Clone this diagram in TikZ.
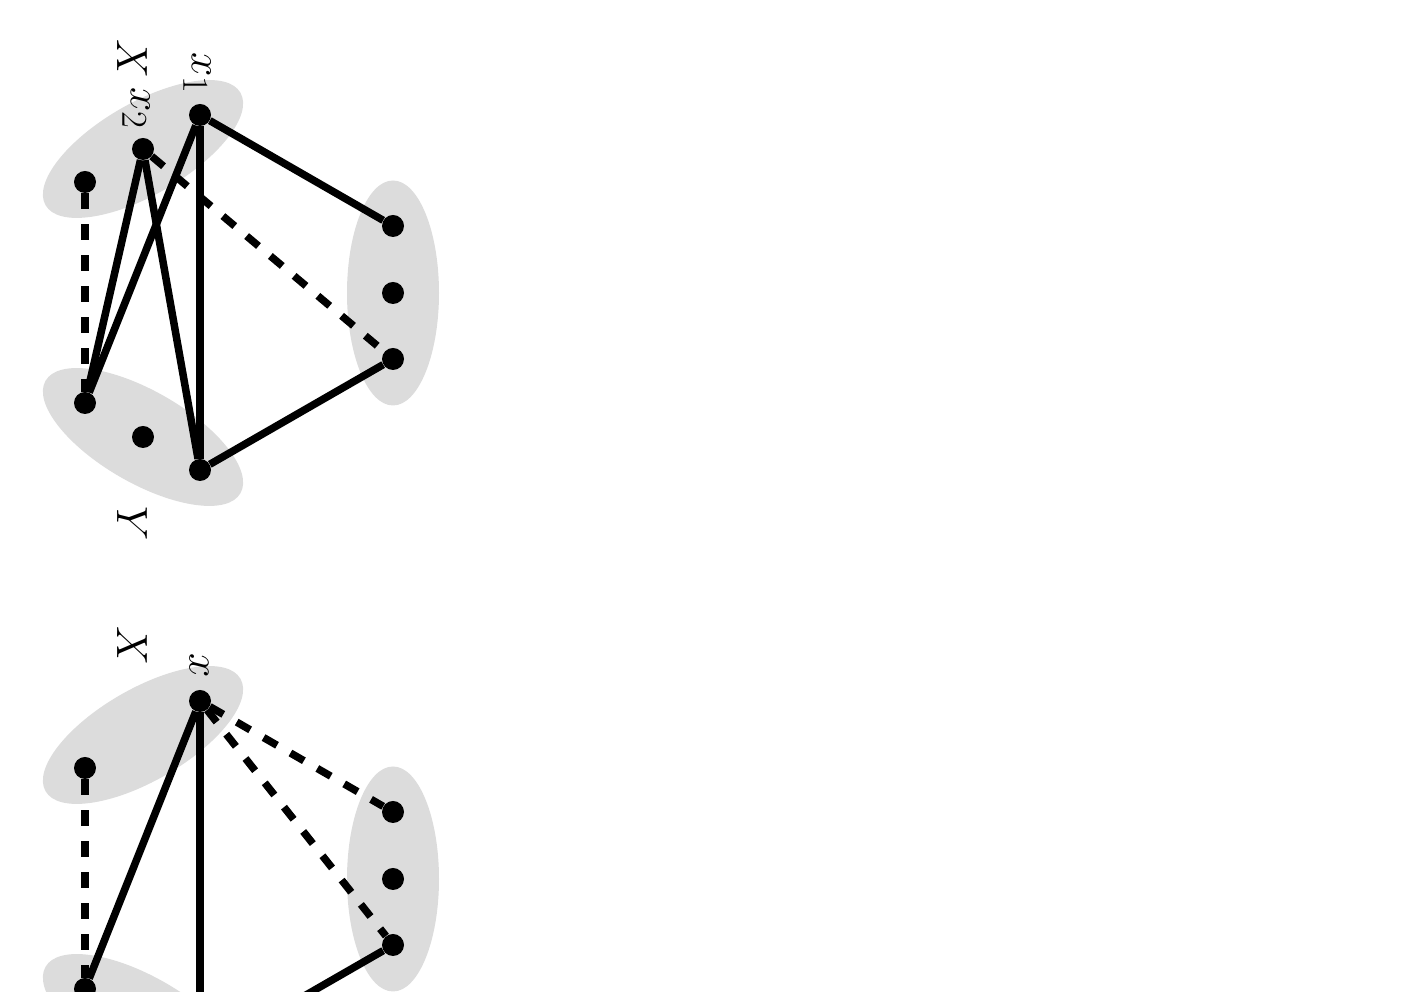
\documentclass[tikz,border=0pt]{standalone}
\usetikzlibrary{shapes.geometric}

\definecolor{blobgray}{RGB}{220,220,220}

\tikzset{
  dot/.style={circle, fill=black, inner sep=0pt, minimum size=0.44cm},
  blob/.style={ellipse, fill=blobgray, inner sep=0pt, minimum width=4.5cm, minimum height=1.84cm},
  lbl/.style={rotate=-90, font=\Huge},
  edge/.style={line width=0.15cm},
  nonedge/.style={line width=0.15cm, dash pattern=on 0.31cm off 0.31cm}
}

\begin{document}
\begin{tikzpicture}
    \clip (0,0) rectangle (28.08,19.84);

    % upper picture
    \node[blob, rotate=30] (X) at (2.86,16.86) {};
    \node[blob, rotate=-30] (Y) at (2.86,11.10) {};
    \node[blob, rotate=90] (Z) at (7.86,13.98) {};

    \node[dot] (X1) at (4.00,17.54) {};
    \node[dot] (X2) at (2.86,16.86) {};
    \node[dot] (X3) at (1.70,16.20) {};
    \node[dot] (Y1) at (1.70,11.78) {};
    \node[dot] (Y2) at (2.86,11.10) {};
    \node[dot] (Y3) at (4.00,10.44) {};
    \node[dot] (Z1) at (7.86,15.32) {};
    \node[dot] (Z2) at (7.86,13.98) {};
    \node[dot] (Z3) at (7.86,12.66) {};

    \node[lbl] (LX) at (2.64,18.66) {$X$};
    \node[lbl] (LX1) at (3.94,18.38) {$x_1$};
    \node[lbl] (LX2) at (2.72,17.68) {$x_2$};
    \node[lbl] (LY) at (2.64,9.36) {$Y$};

    \draw[edge] (X1) -- (Z1);
    \draw[edge] (X1) -- (Y3);
    \draw[edge] (X1) -- (Y1);
    \draw[edge] (X2) -- (Y1);
    \draw[edge] (X2) -- (Y3);
    \draw[edge] (Y3) -- (Z3);
    \draw[nonedge] (X2) -- (Z3);
    \draw[nonedge] (X3) -- (Y1);

    % lower picture
    \begin{scope}[yshift=-11.72cm]
      \node[blob, rotate=30] (Xb) at (2.86,16.86) {};
      \node[blob, rotate=-30] (Yb) at (2.86,11.10) {};
      \node[blob, rotate=90] (Zb) at (7.86,13.98) {};

      \node[dot] (Xb1) at (4.00,17.54) {};
      \node[dot] (Xb3) at (1.70,16.20) {};
      \node[dot] (Yb1) at (1.70,11.78) {};
      \node[dot] (Yb2) at (2.86,11.10) {};
      \node[dot] (Yb3) at (4.00,10.44) {};
      \node[dot] (Zb1) at (7.86,15.32) {};
      \node[dot] (Zb2) at (7.86,13.98) {};
      \node[dot] (Zb3) at (7.86,12.66) {};

      \node[lbl] (LXb) at (2.64,18.64) {$X$};
      \node[lbl] (LXb1) at (3.98,18.24) {$x$};

      \draw[edge] (Xb1) -- (Yb1);
      \draw[edge] (Xb1) -- (Yb3);
      \draw[edge] (Yb3) -- (Zb3);
      \draw[nonedge] (Xb1) -- (Zb1);
      \draw[nonedge] (Xb1) -- (Zb3);
      \draw[nonedge] (Xb3) -- (Yb1);
    \end{scope}
\end{tikzpicture}
\end{document}
